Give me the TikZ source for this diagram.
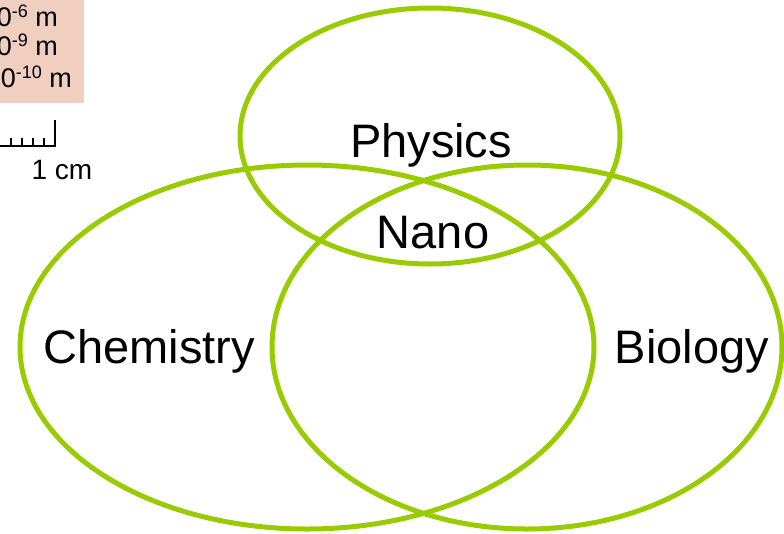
\documentclass[tikz,border=0pt]{standalone}
\usepackage{fontspec}
\setmainfont{Liberation Sans}
\definecolor{venngreen}{RGB}{153,204,0}
\definecolor{scalepink}{RGB}{240,206,192}
\newcommand{\powten}[1]{10\raisebox{9pt}{\fontsize{18}{20}\selectfont #1}}

\begin{document}
\begin{tikzpicture}[x=1pt, y=-1pt, ring/.style={draw=venngreen, line width=5pt}, field/.style={font=\fontsize{47}{56}\selectfont, inner sep=0pt, anchor=base}, small/.style={font=\fontsize{27}{30}\selectfont, inner sep=0pt, anchor=base east}, tick/.style={line width=1.3pt}]
	\useasboundingbox (0,0) rectangle (784,533);
	\clip (0,0) rectangle (784,533);
	% cut-off scale table
	\fill[scalepink] (-10,-10) rectangle (84,103);
	\node[small] (micro) at (58,26) {\powten{-6} m};
	\node[small] (nanom) at (58,55) {\powten{-9} m};
	\node[small] (angst) at (72,87) {\powten{-10} m};
	\draw[tick] (-5,146) -- (55,146);
	\foreach \t in {11,22,33,44} {\draw[tick] (\t,146) -- (\t,138);}
	\draw[tick] (55,146.6) -- (55,120);
	\node[font=\fontsize{28}{32}\selectfont, inner sep=0pt, anchor=base] (cm) at (62,179) {1 cm};
	% venn rings
	\draw[ring] (307,347) ellipse [x radius=287, y radius=182];
	\draw[ring] (527,347) ellipse [x radius=255, y radius=182];
	\draw[ring] (430,136) ellipse [x radius=190, y radius=128];
	\node[field] (phys) at (431,157) {Physics};
	\node[field] (nano) at (433,248) {Nano};
	\node[field] (chem) at (149,363) {Chemistry};
	\node[field] (bio) at (692,363) {Biology};
\end{tikzpicture}
\end{document}
